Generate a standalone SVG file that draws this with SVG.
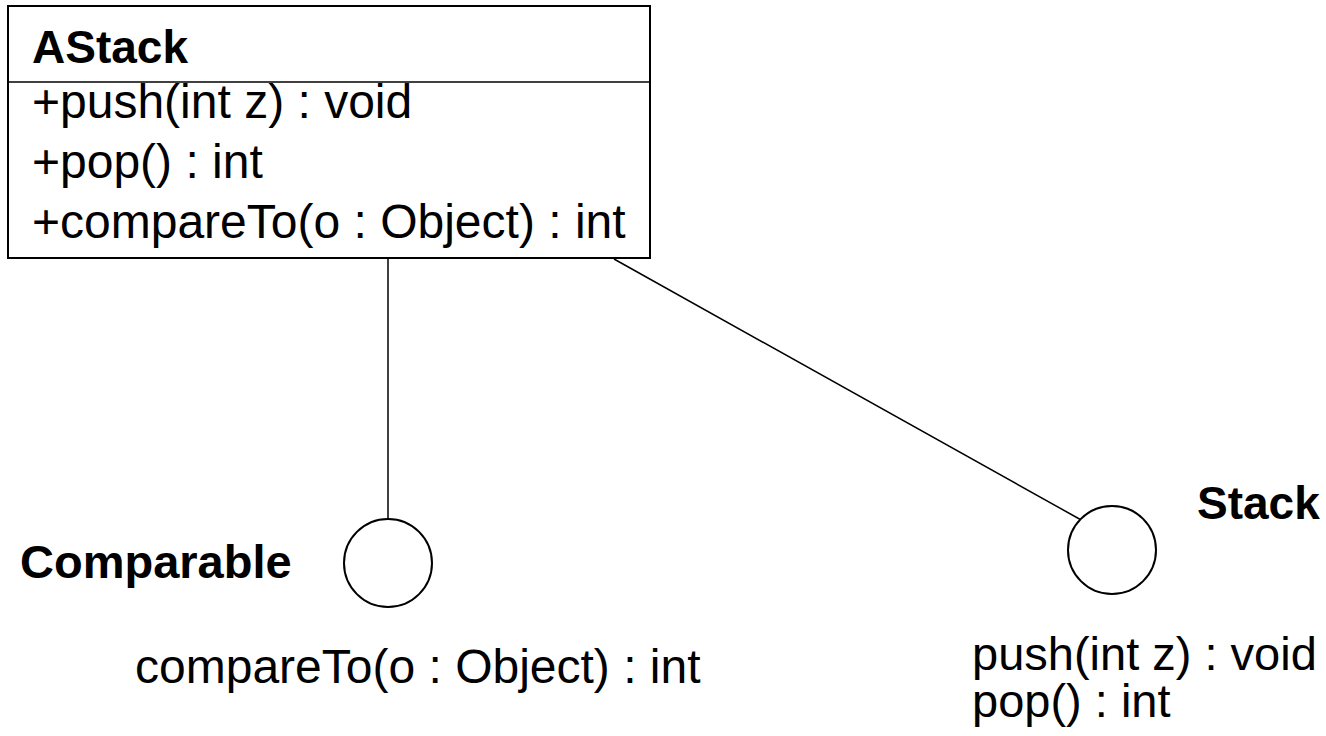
<svg xmlns="http://www.w3.org/2000/svg" width="1326" height="736" viewBox="0 0 1326 736">
  <style>
    .txt { font-family: "Liberation Sans", Arial, sans-serif; font-size: 48px; fill: #000; }
    .small { font-size: 47px; }
    .bold { font-weight: bold; font-size: 46px; }
    .shape { fill: #fff; stroke: #000; stroke-width: 2; }
    .edge { fill: none; stroke: #000; stroke-width: 1.5; }
  </style>
  <rect width="1326" height="736" fill="#fff"/>

  <!-- connectors: class to its interface lollipops -->
  <g id="connectors">
    <line class="edge" x1="388" y1="258" x2="388" y2="520"/>
    <line class="edge" x1="614" y1="259" x2="1083" y2="521"/>
  </g>

  <!-- class AStack -->
  <g id="AStack">
    <rect class="shape" x="8" y="6" width="642" height="252"/>
    <line class="edge" stroke-width="2" x1="8" y1="82" x2="650" y2="82"/>
    <text class="txt bold" x="32" y="63">AStack</text>
    <text class="txt" x="32" y="118">+push(int z) : void</text>
    <text class="txt" x="32" y="178">+pop() : int</text>
    <text class="txt" x="32" y="238">+compareTo(o : Object) : int</text>
  </g>

  <!-- interface Comparable -->
  <g id="Comparable">
    <circle class="shape" cx="388" cy="563" r="44"/>
    <text class="txt bold" x="20" y="578" style="font-size:47px">Comparable</text>
    <text class="txt" x="135" y="683">compareTo(o : Object) : int</text>
  </g>

  <!-- interface Stack -->
  <g id="Stack">
    <circle class="shape" cx="1112" cy="550" r="44"/>
    <text class="txt bold" x="1197" y="519">Stack</text>
    <text class="txt small" x="972" y="670">push(int z) : void</text>
    <text class="txt small" x="972" y="717">pop() : int</text>
  </g>
</svg>
